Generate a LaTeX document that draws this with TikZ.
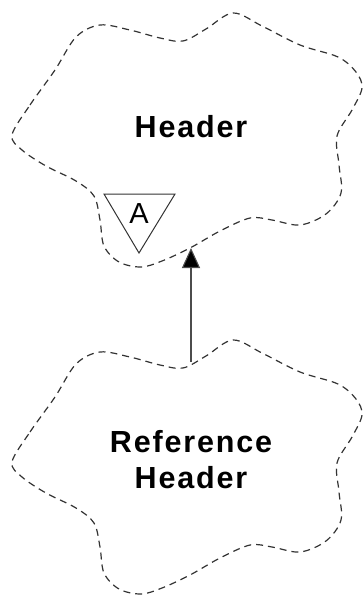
\documentclass[tikz,border=0pt]{standalone}
\usepackage{fontspec}
\setmainfont{Liberation Sans}
\usetikzlibrary{arrows.meta}
\tikzset{
  cloudline/.style={draw=black!80, line width=1.2pt, dash pattern=on 7pt off 5pt},
  classtext/.style={font=\bfseries\addfontfeatures{LetterSpace=6}\fontsize{30.5}{36}\selectfont, align=center, inner sep=0pt},
  marktext/.style={font=\fontsize{29}{36}\selectfont, inner sep=0pt},
  markline/.style={draw=black!80, line width=1pt},
  arr/.style={draw=black!70, line width=1.1pt, -{Triangle[length=20pt,width=18pt,fill=black]}}
}
\begin{document}
\begin{tikzpicture}[x=1pt,y=-1pt]
\useasboundingbox (0,0) rectangle (363,595);
% top cloud
\draw[cloudline] plot[smooth cycle, tension=0.55] coordinates {(12,135) (30,105) (55,70) (76,37) (100,25) (130,30) (160,38) (183,41) (206,29) (233,13) (262,26) (300,45) (338,57) (356,72) (362,88) (352,110) (337,136) (339,165) (341,193) (326,214) (300,225) (272,220) (250,218) (220,231) (190,248) (162,261) (141,267) (119,262) (104,246) (100,220) (94,196) (76,181) (46,166) (22,150)};
% bottom cloud
\begin{scope}[shift={(0,327)}]
\draw[cloudline] plot[smooth cycle, tension=0.55] coordinates {(12,135) (30,105) (55,70) (76,37) (100,25) (130,30) (160,38) (183,41) (206,29) (233,13) (262,26) (300,45) (338,57) (356,72) (362,88) (352,110) (337,136) (339,165) (341,193) (326,214) (300,225) (272,220) (250,218) (220,231) (190,248) (162,261) (141,267) (119,262) (104,246) (100,220) (94,196) (76,181) (46,166) (22,150)};
\end{scope}
\node[classtext] (header) at (191,127) {Header};
\node[classtext] (refheader) at (191,460) {Reference\\Header};
% abstract mark
\coordinate (tl) at (104,194);
\coordinate (tr) at (175,194);
\coordinate (tb) at (139,253);
\draw[markline] (tl) -- (tr) -- (tb) -- cycle;
\node[marktext] (amark) at (139,214) {A};
% generalization arrow
\coordinate (reftop) at (191,362);
\coordinate (hdrbottom) at (191,248);
\draw[arr] (reftop) -- (hdrbottom);
\end{tikzpicture}
\end{document}
